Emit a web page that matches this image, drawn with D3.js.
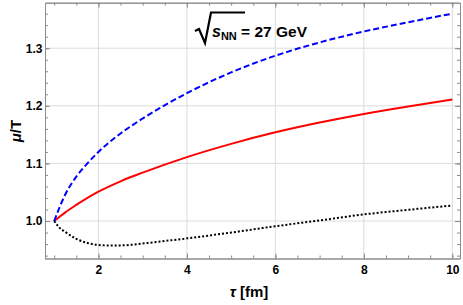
<!DOCTYPE html>
<html><head><meta charset="utf-8">
<script src="https://cdn.jsdelivr.net/npm/d3@7"></script>
<style>body{margin:0;background:#fff}svg{display:block}</style>
</head><body>
<svg id="c" width="463" height="305"></svg>
<script>
const tauBlue = [1,1.1,1.25,1.5,1.75,2,2.5,3,4,5,6,7,8,9,10];
const muBlue  = [1.0,1.02,1.046,1.077,1.1,1.12,1.152,1.178,1.222,1.258,1.287,1.31,1.329,1.345,1.36];
const tauRed  = [1,1.1,1.25,1.5,2,2.5,3,4,5,6,7,8,9,10];
const muRed   = [1.0,1.006,1.015,1.028,1.051,1.069,1.084,1.111,1.134,1.154,1.171,1.186,1.199,1.211];
const tauBlack= [1,1.1,1.25,1.5,1.75,2,2.3,2.6,3,4,5,6,7,8,9,10];
const muBlack = [1.0,0.99,0.981,0.969,0.962,0.9585,0.9575,0.958,0.961,0.970,0.980,0.991,1.001,1.0115,1.0195,1.027];
const xTicks = [2,4,6,8,10];
const yTicks = [1.0,1.1,1.2,1.3];
const xLabel = "τ [fm]";
const yLabel = "μ/T";

const svg = d3.select("#c");
const L=45,R=460,T=2.7,B=258.5;
const x = d3.scaleLinear().domain([0.792,10.174]).range([L,R]);
const y = d3.scaleLinear().domain([0.935,1.379]).range([B,T]);

// grid
const g = svg.append("g");
g.selectAll(".gx").data(xTicks).enter().append("line")
 .attr("x1",d=>x(d)).attr("x2",d=>x(d)).attr("y1",T).attr("y2",B)
 .attr("stroke","#dcdcdc").attr("stroke-width",1);
g.selectAll(".gy").data(yTicks).enter().append("line")
 .attr("y1",d=>y(d)).attr("y2",d=>y(d)).attr("x1",L).attr("x2",R)
 .attr("stroke","#dcdcdc").attr("stroke-width",1);

// frame axes
const fc="#8c8c8c";
const xMinor = d3.range(1,10.01,0.5);
const yMinor = d3.range(0.94,1.3701,0.02);
function axisB(sel,pos,labels){
  const ax = (pos==="bottom"?d3.axisBottom(x):d3.axisTop(x)).tickValues(xMinor).tickSizeInner(-3).tickSizeOuter(0).tickFormat("");
  sel.call(ax);
  const ax2 = (pos==="bottom"?d3.axisBottom(x):d3.axisTop(x)).tickValues(xTicks).tickSizeInner(-5).tickSizeOuter(0)
    .tickFormat(labels?d3.format("d"):"").tickPadding(labels?6.5:0);
  sel.append("g").call(ax2);
}
function axisL(sel,pos,labels){
  const ax = (pos==="left"?d3.axisLeft(y):d3.axisRight(y)).tickValues(yMinor).tickSizeInner(-3).tickSizeOuter(0).tickFormat("");
  sel.call(ax);
  const ax2 = (pos==="left"?d3.axisLeft(y):d3.axisRight(y)).tickValues(yTicks).tickSizeInner(-5).tickSizeOuter(0)
    .tickFormat(labels?d3.format(".1f"):"").tickPadding(labels?2.5:0);
  sel.append("g").call(ax2);
}
const gb=svg.append("g").attr("transform",`translate(0,${B})`); axisB(gb,"bottom",true);
const gt=svg.append("g").attr("transform",`translate(0,${T})`); axisB(gt,"top",false);
const gl=svg.append("g").attr("transform",`translate(${L},0)`); axisL(gl,"left",true);
const gr=svg.append("g").attr("transform",`translate(${R},0)`); axisL(gr,"right",false);
svg.selectAll(".domain").attr("stroke",fc);
svg.selectAll(".tick line").attr("stroke",fc);
svg.selectAll(".tick text").attr("fill","#000").attr("font-family","Liberation Sans, Arial, sans-serif")
  .attr("font-weight","bold").attr("font-size","12px");

// curves
const line = d3.line().x(d=>x(d[0])).y(d=>y(d[1])).curve(d3.curveMonotoneX);
function series(ts,vs,color,dash){
  svg.append("path").datum(ts.map((t,i)=>[t,vs[i]])).attr("d",line)
   .attr("fill","none").attr("stroke",color).attr("stroke-width",2)
   .attr("stroke-dasharray",dash);
}
series(tauRed,muRed,"#ff0000",null);
series(tauBlue,muBlue,"#0000ff","6,3");
series(tauBlack,muBlack,"#000","2,2");

// labels
const ff="Liberation Sans, Arial, sans-serif";
const xl = svg.append("text").attr("x",249).attr("y",297).attr("text-anchor","middle")
 .attr("font-family",ff).attr("font-weight","bold").attr("font-size","15px");
xl.append("tspan").attr("font-style","italic").text("τ");
xl.append("tspan").text(" [fm]");
const yl = svg.append("text").attr("transform","translate(21,131) rotate(-90)").attr("text-anchor","middle")
 .attr("font-family",ff).attr("font-weight","bold").attr("font-size","15px");
yl.append("tspan").attr("font-style","italic").text("μ");
yl.append("tspan").text("/T");

// annotation sqrt(s_NN) = 27 GeV
svg.append("path").attr("d","M195,31 L199,29 L205,43 L211,12.5 L245,12.5")
 .attr("fill","none").attr("stroke","#000").attr("stroke-width",2.2).attr("stroke-linejoin","miter");
const an = svg.append("text").attr("x",212).attr("y",37).attr("font-family",ff).attr("font-weight","bold").attr("font-size","16px");
an.append("tspan").attr("font-style","italic").text("s");
an.append("tspan").attr("font-size","11px").attr("dy",2.5).text("NN");
an.append("tspan").attr("dy",-2.5).attr("font-size","15.5px").text(" = 27 GeV");
</script>
</body></html>
